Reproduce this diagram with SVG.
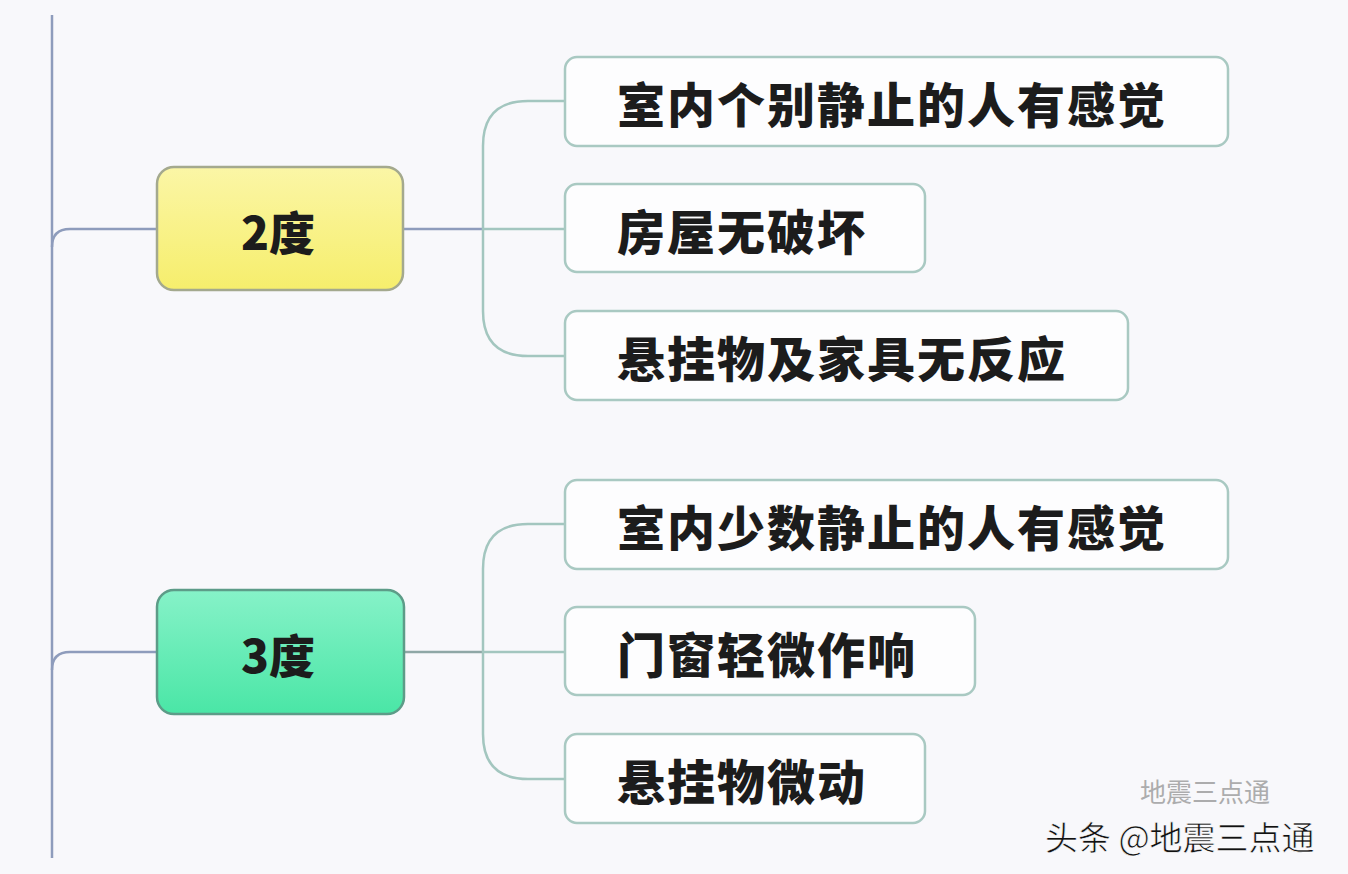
<svg xmlns="http://www.w3.org/2000/svg" width="1348" height="874" viewBox="0 0 1348 874">
<style>
.cj{font-family:"Noto Sans CJK SC","Noto Sans",sans-serif;font-weight:900;fill:#1c1c1c}
.leaf{fill:#fdfdfe;stroke:#a9c9c2;stroke-width:2.5}
.main{fill:none;stroke:#8e9cbc;stroke-width:2.5}
.sub{fill:none;stroke:#a3c6bf;stroke-width:2.5}
</style>
<defs>
<linearGradient id="gy" x1="0" y1="0" x2="0" y2="1"><stop offset="0" stop-color="#fbf6a6"/><stop offset="1" stop-color="#f6ee6c"/></linearGradient>
<linearGradient id="gg" x1="0" y1="0" x2="0" y2="1"><stop offset="0" stop-color="#86f2c8"/><stop offset="1" stop-color="#4ae6a6"/></linearGradient>
</defs>
<rect width="1348" height="874" fill="#f8f8fb"/>
<g id="connectors">
<path class="main" d="M52,15 L52,858"/>
<path class="main" d="M52,247 Q52,229 70,229 L157,229"/>
<path class="main" d="M52,670 Q52,652 70,652 L157,652"/>
<path class="main" d="M403,229 L483,229"/>
<path class="sub" d="M483,229 L565,229"/>
<path class="sub" d="M565,101 L528,101 Q483,101 483,146 L483,311 Q483,356 528,356 L565,356"/>
<path class="main" d="M404,652 L483,652" style="stroke:#8fa7a6"/>
<path class="sub" d="M483,652 L565,652"/>
<path class="sub" d="M565,524 L528,524 Q483,524 483,569 L483,734 Q483,779 528,779 L565,779"/>
</g>
<g id="n2">
<rect x="157" y="167" width="246" height="123" rx="17" fill="url(#gy)" stroke="#a4a98e" stroke-width="2.5"/>
<text class="cj" x="278" y="230" font-size="46" text-anchor="middle" dominant-baseline="central">2度</text>
</g>
<g id="n3">
<rect x="157" y="590" width="247" height="124" rx="17" fill="url(#gg)" stroke="#5d9c88" stroke-width="2.5"/>
<text class="cj" x="278" y="653" font-size="46" text-anchor="middle" dominant-baseline="central">3度</text>
</g>
<g id="c1">
<rect class="leaf" x="565" y="57" width="663" height="89" rx="12"/>
<text class="cj" x="617" y="102" font-size="48" letter-spacing="2" dominant-baseline="central">室内个别静止的人有感觉</text>
</g>
<g id="c2">
<rect class="leaf" x="565" y="184" width="360" height="88" rx="12"/>
<text class="cj" x="617" y="229" font-size="48" letter-spacing="2" dominant-baseline="central">房屋无破坏</text>
</g>
<g id="c3">
<rect class="leaf" x="565" y="311" width="563" height="89" rx="12"/>
<text class="cj" x="617" y="356" font-size="48" letter-spacing="2" dominant-baseline="central">悬挂物及家具无反应</text>
</g>
<g id="c4">
<rect class="leaf" x="565" y="480" width="663" height="89" rx="12"/>
<text class="cj" x="617" y="525" font-size="48" letter-spacing="2" dominant-baseline="central">室内少数静止的人有感觉</text>
</g>
<g id="c5">
<rect class="leaf" x="565" y="607" width="410" height="88" rx="12"/>
<text class="cj" x="617" y="652" font-size="48" letter-spacing="2" dominant-baseline="central">门窗轻微作响</text>
</g>
<g id="c6">
<rect class="leaf" x="565" y="734" width="360" height="89" rx="12"/>
<text class="cj" x="617" y="779" font-size="48" letter-spacing="2" dominant-baseline="central">悬挂物微动</text>
</g>
<g id="watermark">
<text x="1140" y="790" font-family="Noto Sans CJK SC,sans-serif" font-size="26" fill="#9a9a9a" opacity="0.8" dominant-baseline="central">地震三点通</text>
<text x="1045" y="836" font-family="Noto Sans CJK SC,sans-serif" font-size="33" fill="#111" stroke="#fff" stroke-width="0.6" dominant-baseline="central">头条 @地震三点通</text>
</g>
</svg>
